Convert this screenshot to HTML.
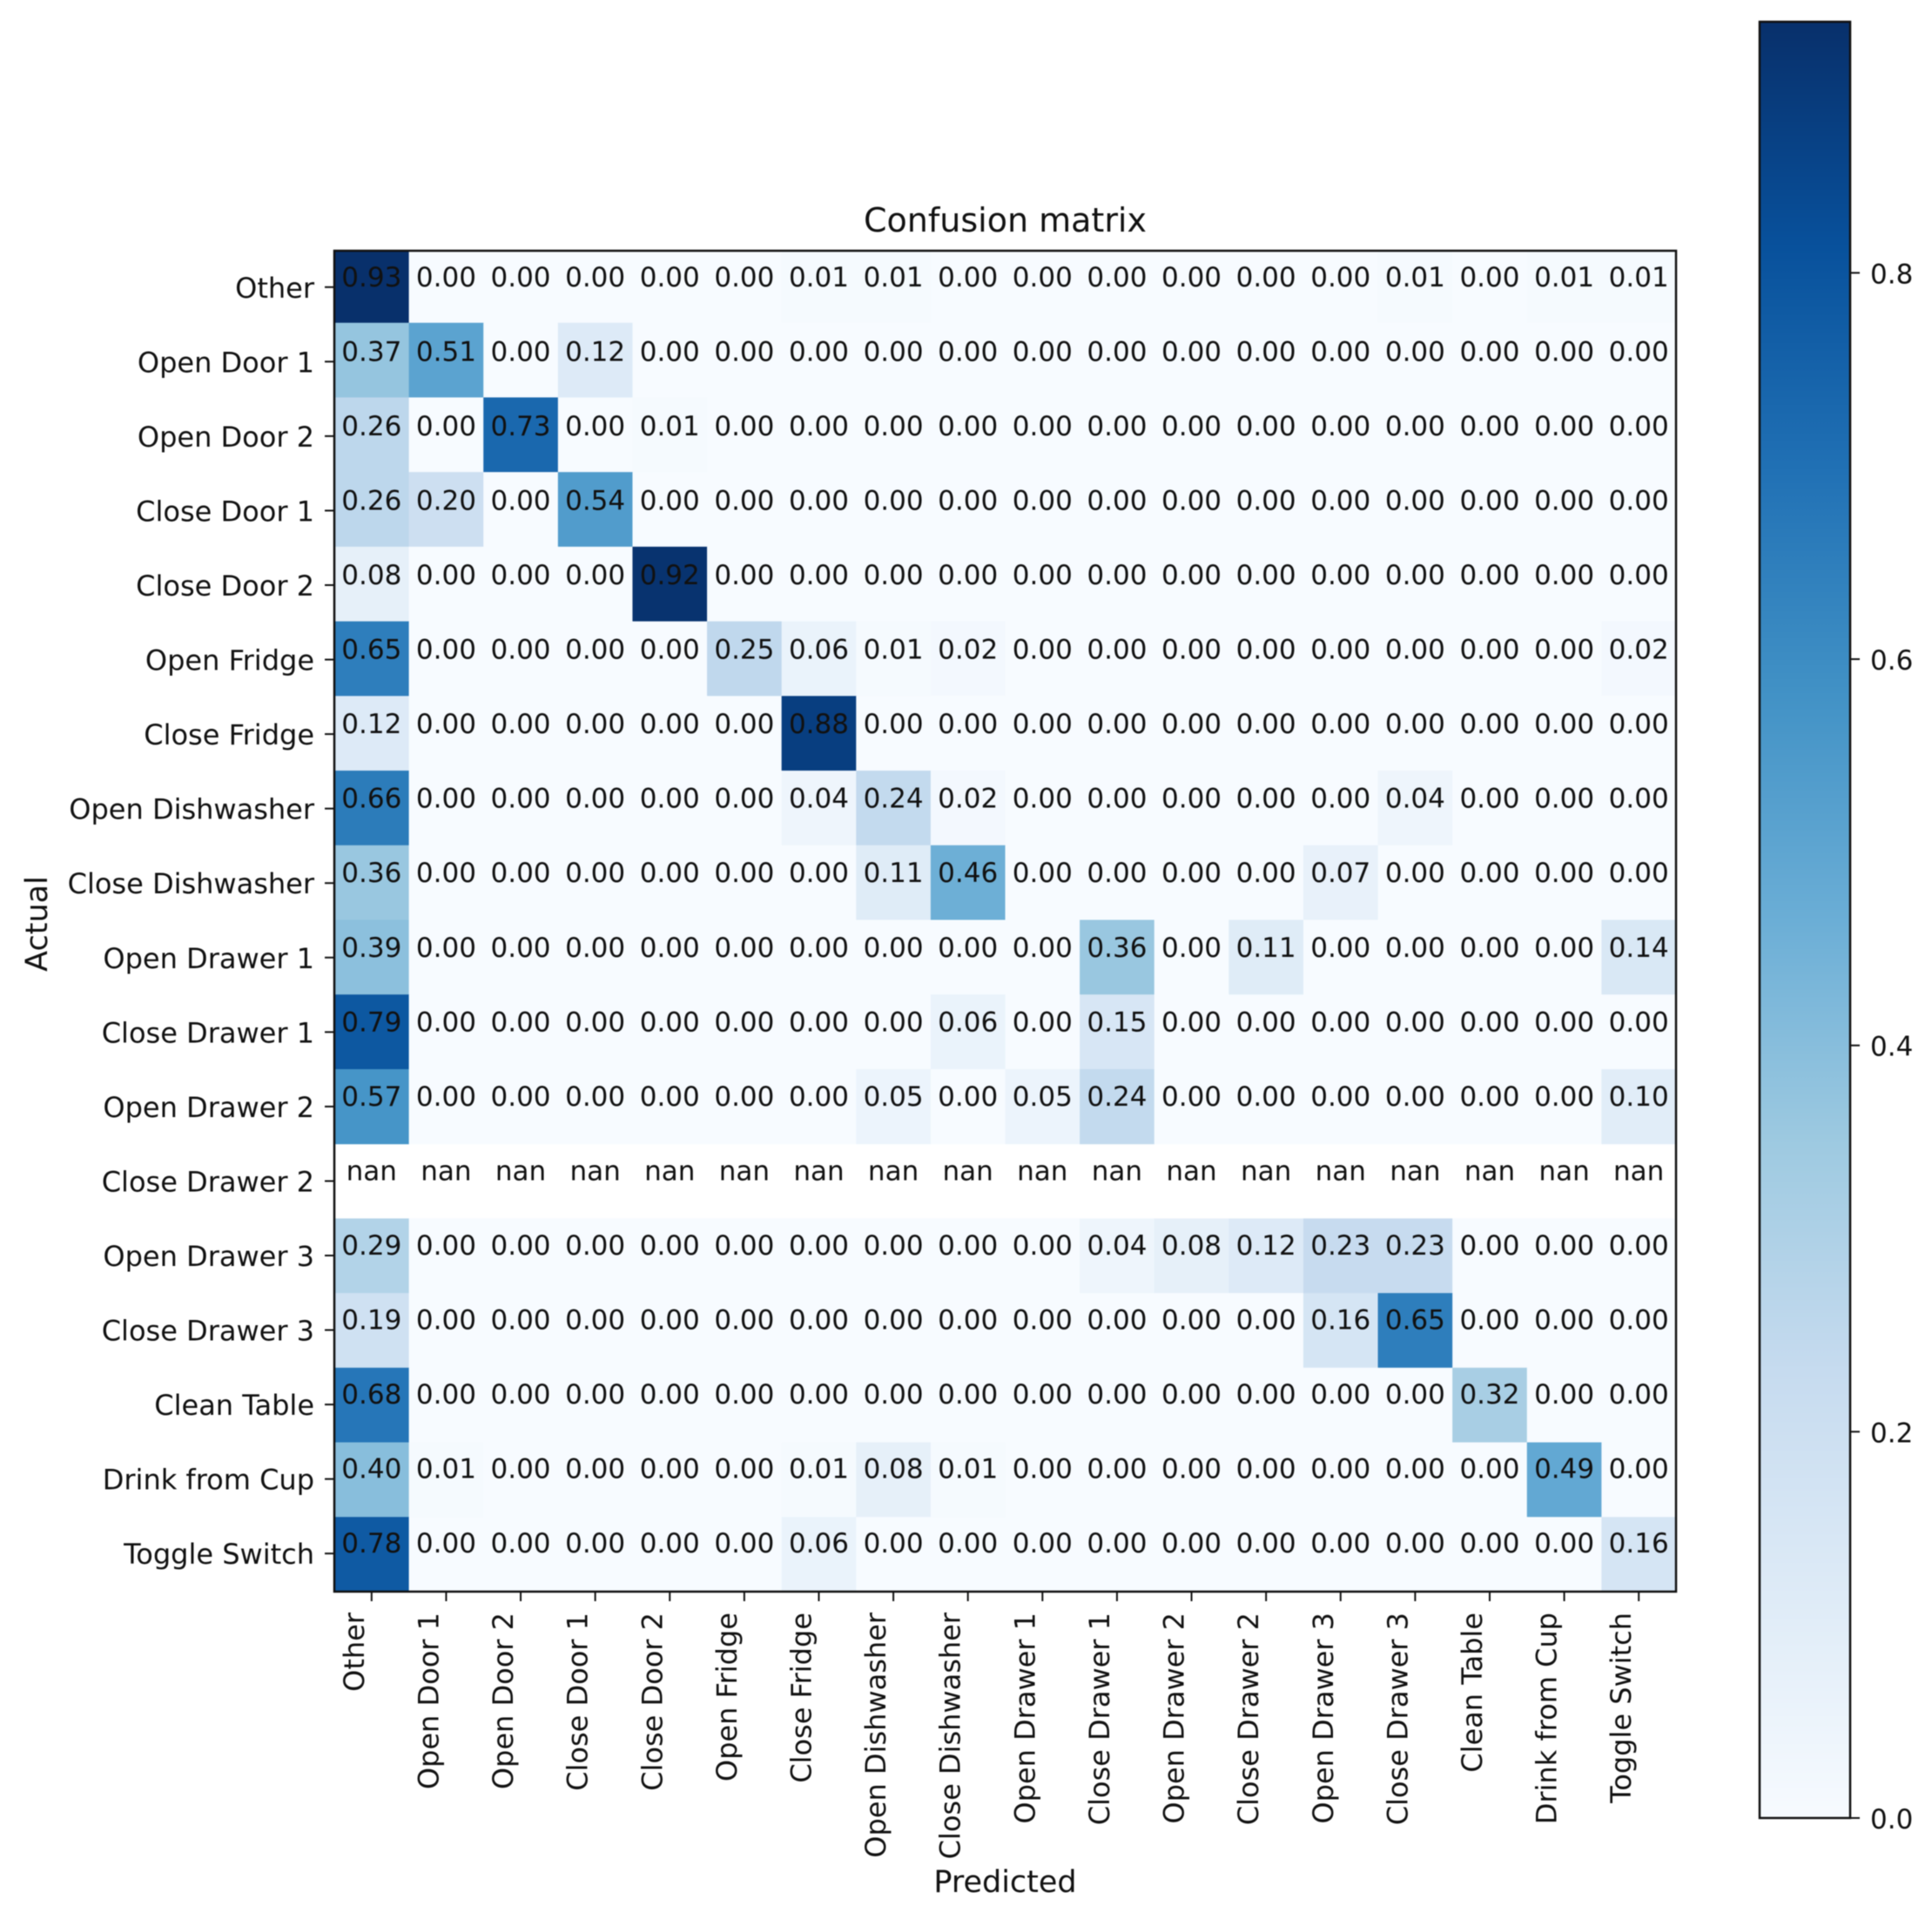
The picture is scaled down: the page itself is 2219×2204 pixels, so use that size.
<!DOCTYPE html>
<html>
<head>
<meta charset="utf-8">
<title>Confusion matrix</title>
<style>
html,body{margin:0;padding:0;background:#fff;}
svg{display:block;filter:blur(0.6px);}
text{font-family:"DejaVu Sans","Liberation Sans",sans-serif;fill:#111;}
</style>
</head>
<body>
<svg id="chart" xmlns="http://www.w3.org/2000/svg" width="2219" height="2204" viewBox="0 0 2219 2204">
  <defs>
    <linearGradient id="blues" x1="0" y1="1" x2="0" y2="0">
      <stop offset="0" stop-color="#f7fbff"/>
      <stop offset="0.125" stop-color="#deebf7"/>
      <stop offset="0.25" stop-color="#c6dbef"/>
      <stop offset="0.375" stop-color="#9ecae1"/>
      <stop offset="0.5" stop-color="#6baed6"/>
      <stop offset="0.625" stop-color="#4292c6"/>
      <stop offset="0.75" stop-color="#2171b5"/>
      <stop offset="0.875" stop-color="#08519c"/>
      <stop offset="1" stop-color="#08306b"/>
    </linearGradient>
  </defs>
  <rect width="2219" height="2204" fill="#fff"/>
</svg>
<script>
const categories = ["Other","Open Door 1","Open Door 2","Close Door 1","Close Door 2","Open Fridge","Close Fridge","Open Dishwasher","Close Dishwasher","Open Drawer 1","Close Drawer 1","Open Drawer 2","Close Drawer 2","Open Drawer 3","Close Drawer 3","Clean Table","Drink from Cup","Toggle Switch"];
const rowOther           = [0.93,0,0,0,0,0,0.01,0.01,0,0,0,0,0,0,0.01,0,0.01,0.01];
const rowOpenDoor1       = [0.37,0.51,0,0.12,0,0,0,0,0,0,0,0,0,0,0,0,0,0];
const rowOpenDoor2       = [0.26,0,0.73,0,0.01,0,0,0,0,0,0,0,0,0,0,0,0,0];
const rowCloseDoor1      = [0.26,0.20,0,0.54,0,0,0,0,0,0,0,0,0,0,0,0,0,0];
const rowCloseDoor2      = [0.08,0,0,0,0.92,0,0,0,0,0,0,0,0,0,0,0,0,0];
const rowOpenFridge      = [0.65,0,0,0,0,0.25,0.06,0.01,0.02,0,0,0,0,0,0,0,0,0.02];
const rowCloseFridge     = [0.12,0,0,0,0,0,0.88,0,0,0,0,0,0,0,0,0,0,0];
const rowOpenDishwasher  = [0.66,0,0,0,0,0,0.04,0.24,0.02,0,0,0,0,0,0.04,0,0,0];
const rowCloseDishwasher = [0.36,0,0,0,0,0,0,0.11,0.46,0,0,0,0,0.07,0,0,0,0];
const rowOpenDrawer1     = [0.39,0,0,0,0,0,0,0,0,0,0.36,0,0.11,0,0,0,0,0.14];
const rowCloseDrawer1    = [0.79,0,0,0,0,0,0,0,0.06,0,0.15,0,0,0,0,0,0,0];
const rowOpenDrawer2     = [0.57,0,0,0,0,0,0,0.05,0,0.05,0.24,0,0,0,0,0,0,0.10];
const rowCloseDrawer2    = [NaN,NaN,NaN,NaN,NaN,NaN,NaN,NaN,NaN,NaN,NaN,NaN,NaN,NaN,NaN,NaN,NaN,NaN];
const rowOpenDrawer3     = [0.29,0,0,0,0,0,0,0,0,0,0.04,0.08,0.12,0.23,0.23,0,0,0];
const rowCloseDrawer3    = [0.19,0,0,0,0,0,0,0,0,0,0,0,0,0.16,0.65,0,0,0];
const rowCleanTable      = [0.68,0,0,0,0,0,0,0,0,0,0,0,0,0,0,0.32,0,0];
const rowDrinkFromCup    = [0.40,0.01,0,0,0,0,0.01,0.08,0.01,0,0,0,0,0,0,0,0.49,0];
const rowToggleSwitch    = [0.78,0,0,0,0,0,0.06,0,0,0,0,0,0,0,0,0,0,0.16];
const matrix = [rowOther,rowOpenDoor1,rowOpenDoor2,rowCloseDoor1,rowCloseDoor2,rowOpenFridge,rowCloseFridge,rowOpenDishwasher,rowCloseDishwasher,rowOpenDrawer1,rowCloseDrawer1,rowOpenDrawer2,rowCloseDrawer2,rowOpenDrawer3,rowCloseDrawer3,rowCleanTable,rowDrinkFromCup,rowToggleSwitch];
const colorbarTicks = [0.0,0.2,0.4,0.6,0.8];
const colorMax = 0.93;
const bluesAnchors = ["#f7fbff","#deebf7","#c6dbef","#9ecae1","#6baed6","#4292c6","#2171b5","#08519c","#08306b"];

const svg = document.getElementById('chart');
const NS = 'http://www.w3.org/2000/svg';
const plot = {left:384, right:1925, top:288, bottom:1828};
const imageTop = 285;
const bar = {left:2021, right:2125, top:25, bottom:2088};

function xCenter(i){ return plot.left + (i + 0.5) * (plot.right - plot.left) / categories.length; }
function yCenter(i){ return plot.top + (i + 0.5) * (plot.bottom - plot.top) / categories.length; }
function xEdge(i){ return plot.left + i * (plot.right - plot.left) / categories.length; }
function yEdge(i){ return Math.max(plot.top, imageTop + i * (plot.bottom - imageTop) / categories.length); }
function barY(v){ return bar.bottom - (v / colorMax) * (bar.bottom - bar.top); }
function hexToRgb(h){ return [1,3,5].map(function(k){ return parseInt(h.substr(k,2),16); }); }
function blues(v){
  const t = Math.max(0, Math.min(1, v / colorMax)) * (bluesAnchors.length - 1);
  const i = Math.min(Math.floor(t), bluesAnchors.length - 2);
  const a = hexToRgb(bluesAnchors[i]);
  const b = hexToRgb(bluesAnchors[i + 1]);
  const f = t - i;
  return 'rgb(' + a.map(function(c,k){ return Math.round(c + (b[k] - c) * f); }).join(',') + ')';
}
function make(tag, props, text){
  const el = document.createElementNS(NS, tag);
  Object.keys(props).forEach(function(k){ el.setAttribute(k, props[k]); });
  if (text !== undefined) el.textContent = text;
  svg.appendChild(el);
  return el;
}

matrix.forEach(function(row, r){
  row.forEach(function(v, c){
    if (!isNaN(v)) {
      const cell = make('rect', {x:xEdge(c), y:yEdge(r), width:xEdge(c+1)-xEdge(c)+0.5, height:yEdge(r+1)-yEdge(r)+0.5, fill:blues(v)});
      
      
    }
  });
});
matrix.forEach(function(row, r){
  row.forEach(function(v, c){
    const label = make('text', {x:xCenter(c), y:yCenter(r)-2, 'text-anchor':'middle', 'font-size':31}, isNaN(v) ? 'nan' : v.toFixed(2));
    
    
  });
});

categories.forEach(function(name, i){
  const yTick = make('line', {x1:plot.left-11, x2:plot.left, y1:yCenter(i)-1, y2:yCenter(i)-1, stroke:'#111', 'stroke-width':2});
  
  
  const yLabel = make('text', {x:361, y:yCenter(i)+11, 'text-anchor':'end', 'font-size':32}, name);
  
  
  const xTick = make('line', {x1:xCenter(i), x2:xCenter(i), y1:plot.bottom, y2:plot.bottom+11, stroke:'#111', 'stroke-width':2});
  
  
  const bx = xCenter(i) - 9;
  const xLabel = make('text', {x:bx, y:1852, 'text-anchor':'end', 'font-size':32, transform:'rotate(-90 ' + bx + ' 1852)'}, name);
  
  
});

const frame = make('rect', {x:plot.left, y:plot.top, width:plot.right-plot.left, height:plot.bottom-plot.top, fill:'none', stroke:'#111', 'stroke-width':2.5});



const title = make('text', {x:(plot.left+plot.right)/2, y:266, 'text-anchor':'middle', 'font-size':38}, 'Confusion matrix');



const xTitle = make('text', {x:(plot.left+plot.right)/2, y:2173, 'text-anchor':'middle', 'font-size':35}, 'Predicted');



const yTitle = make('text', {x:54, y:1061, 'text-anchor':'middle', 'font-size':35, transform:'rotate(-90 54 1061)'}, 'Actual');



const colorbar = make('rect', {x:bar.left, y:bar.top, width:bar.right-bar.left, height:bar.bottom-bar.top, fill:'url(#blues)', stroke:'#111', 'stroke-width':2.5});



colorbarTicks.forEach(function(v){
  const tick = make('line', {x1:bar.right, x2:bar.right+11, y1:barY(v), y2:barY(v), stroke:'#111', 'stroke-width':2});
  
  
  const lab = make('text', {x:2148, y:barY(v)+12, 'font-size':31}, v.toFixed(1));
  
  
});
</script>
</body>
</html>
